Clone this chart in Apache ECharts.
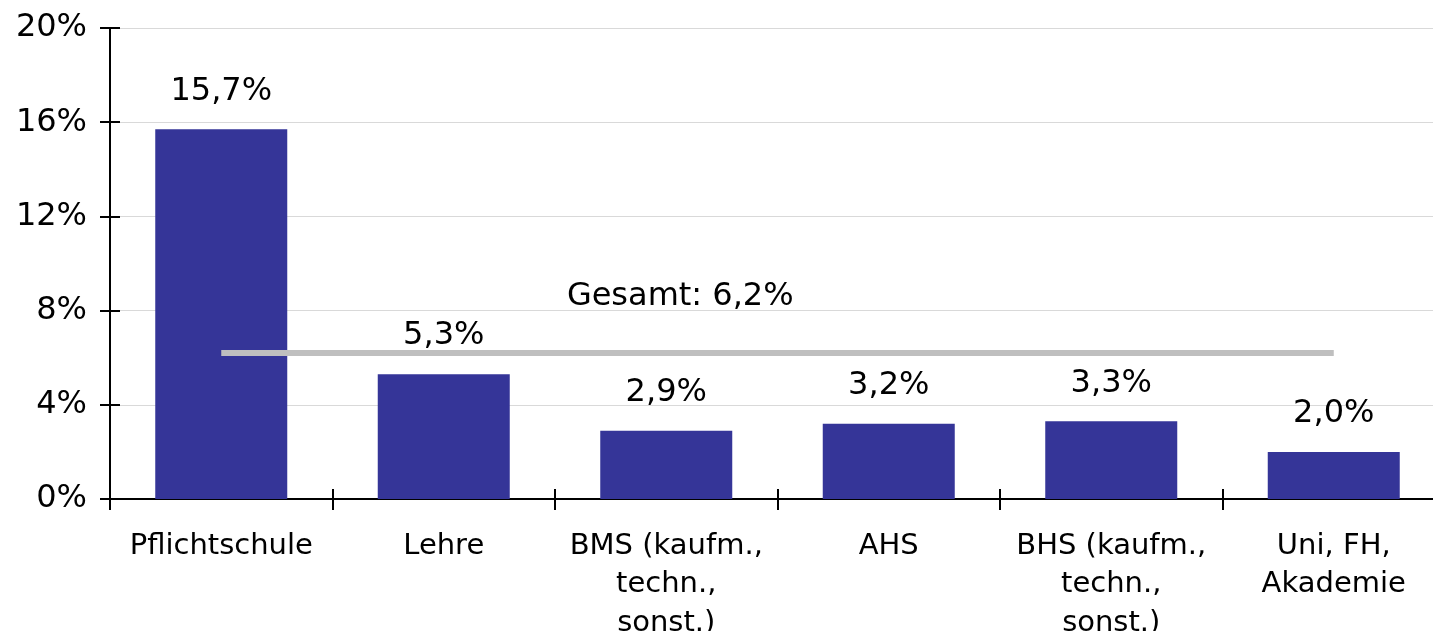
<!DOCTYPE html>
<html>
<head>
<meta charset="utf-8">
<script src="https://cdn.jsdelivr.net/npm/echarts@6/dist/echarts.min.js"></script>
<style>
html,body{margin:0;padding:0;background:#fff;}
#chart{width:1433px;height:631px;}
</style>
</head>
<body>
<div id="chart"></div>
<script>
const categories = ['Pflichtschule', 'Lehre', 'BMS (kaufm.,\ntechn.,\nsonst.)', 'AHS', 'BHS (kaufm.,\ntechn.,\nsonst.)', 'Uni, FH,\nAkademie'];
const values = [15.7, 5.3, 2.9, 3.2, 3.3, 2.0];
const gesamt = 6.2;
const gesamtLabelIndex = 2;
const yTicks = { min: 0, max: 20, interval: 4 };

const fmt = v => v.toFixed(1).replace('.', ',') + '%';
const FONT = '"DejaVu Sans", Verdana, sans-serif';

const lineData = categories.map((c, i) => i === gesamtLabelIndex ? {
  value: gesamt,
  label: {
    show: true, position: 'top', distance: 40, offset: [14, 0],
    formatter: 'Gesamt: ' + fmt(gesamt),
    fontFamily: FONT, fontSize: 32, color: '#000'
  }
} : gesamt);

const chart = echarts.init(document.getElementById('chart'));
chart.setOption({
  animation: false,
  backgroundColor: '#fff',
  grid: { left: 110, top: 28, width: 1335, height: 471, containLabel: false, outerBoundsMode: 'none' },
  xAxis: [{
    type: 'category', data: categories, position: 'bottom',
    axisLine: { show: true, lineStyle: { color: '#000', width: 2 } },
    axisTick: { show: true, length: 11, alignWithLabel: false, lineStyle: { color: '#000', width: 2 } },
    axisLabel: { fontFamily: FONT, fontSize: 29, color: '#000', margin: 28, lineHeight: 38.5, interval: 0, align: 'center', hideOverlap: false },
    splitLine: { show: false }
  }, {
    type: 'category', data: categories, position: 'bottom',
    axisLine: { show: false },
    axisTick: { show: true, inside: true, length: 10, lineStyle: { color: '#000', width: 2 } },
    axisLabel: { show: false },
    splitLine: { show: false }
  }],
  yAxis: [{
    type: 'value', min: yTicks.min, max: yTicks.max, interval: yTicks.interval,
    axisLine: { show: true, lineStyle: { color: '#000', width: 2 } },
    axisTick: { show: true, length: 10, lineStyle: { color: '#000', width: 2 } },
    axisLabel: { formatter: '{value}%', fontFamily: FONT, fontSize: 32, color: '#000', margin: 23 },
    splitLine: { show: true, lineStyle: { color: '#d9d9d9', width: 1 } }
  }, {
    type: 'value', min: yTicks.min, max: yTicks.max, interval: yTicks.interval, position: 'left',
    axisLine: { show: false },
    axisTick: { show: true, inside: true, length: 10, lineStyle: { color: '#000', width: 2 } },
    axisLabel: { show: false },
    splitLine: { show: false }
  }],
  series: [{
    type: 'bar', data: values, barWidth: 132, xAxisIndex: 0, yAxisIndex: 0,
    itemStyle: { color: '#353598' },
    label: {
      show: true, position: 'top', distance: 22,
      formatter: p => fmt(p.value),
      fontFamily: FONT, fontSize: 32, color: '#000'
    },
    z: 2
  }, {
    type: 'line', data: lineData, xAxisIndex: 0, yAxisIndex: 0,
    showSymbol: true, symbol: 'circle', symbolSize: 0.1,
    lineStyle: { color: '#bfbfbf', width: 6 },
    itemStyle: { color: 'rgba(0,0,0,0)' },
    z: 3
  }]
});
</script>
</body>
</html>
